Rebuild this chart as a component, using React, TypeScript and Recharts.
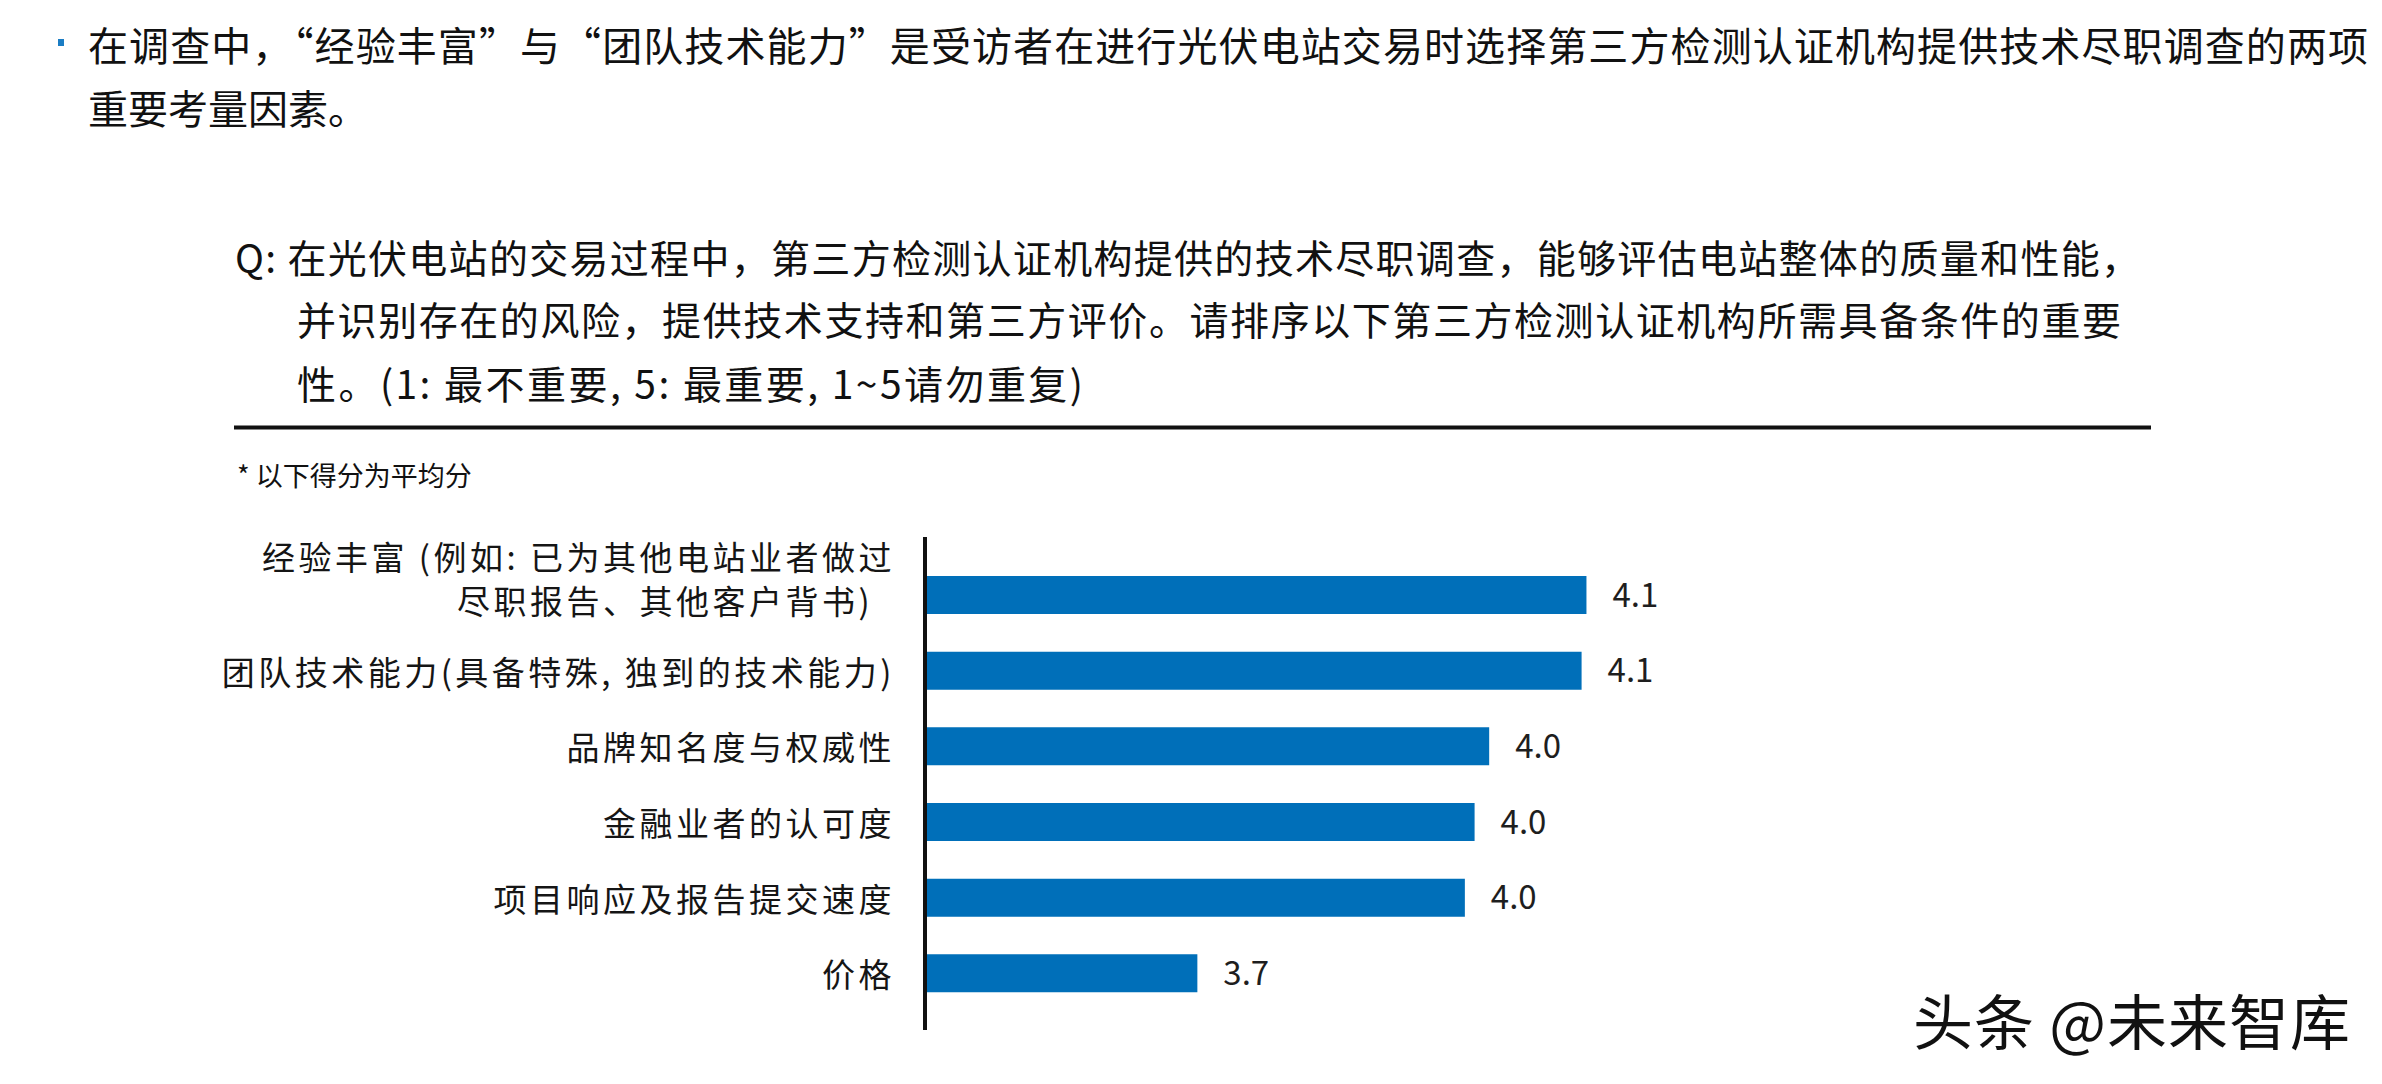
import React from 'react';
import { BarChart, Bar, XAxis, YAxis, LabelList } from 'recharts';

const FONT = "'Noto Sans CJK SC', 'Noto Sans', sans-serif";

const headline = [
  '在调查中，“经验丰富”与“团队技术能力”是受访者在进行光伏电站交易时选择第三方检测认证机构提供技术尽职调查的两项',
  '重要考量因素。',
];
const question = [
  'Q: 在光伏电站的交易过程中，第三方检测认证机构提供的技术尽职调查，能够评估电站整体的质量和性能，',
  '并识别存在的风险，提供技术支持和第三方评价。请排序以下第三方检测认证机构所需具备条件的重要',
  '性。(1: 最不重要, 5: 最重要, 1~5请勿重复)',
];
const footnote = '* 以下得分为平均分';
const watermark = '头条 @未来智库';

const categories = [
  '经验丰富 (例如: 已为其他电站业者做过\n尽职报告、其他客户背书)\u00a0\u00a0',
  '团队技术能力(具备特殊, 独到的技术能力)',
  '品牌知名度与权威性',
  '金融业者的认可度',
  '项目响应及报告提交速度',
  '价格',
];
const scores = [4.1, 4.095, 4.0, 3.985, 3.975, 3.7];
const data = categories.map((name, i) => ({ name, score: scores[i] }));

const BAR_COLOR = '#006FB9';

const CategoryTick = (props: any) => {
  const { x, y, payload } = props;
  const lines: string[] = String(payload.value).split('\n');
  const startDy = lines.length > 1 ? -39 : 0;
  return (
    <text
      x={x}
      y={y}
      textAnchor="end"
      dominantBaseline="central"
      fontFamily={FONT}
      fontSize={33}
      letterSpacing={3.5}
      fill="#151515"
      style={{ whiteSpace: 'pre' }}
    >
      {lines.map((l, i) => (
        <tspan key={i} x={x} dy={i === 0 ? startDy : 44}>
          {l}
        </tspan>
      ))}
    </text>
  );
};

export default function App() {
  return (
    <div style={{ position: 'absolute', left: 0, top: 0, width: 2382, height: 1084, background: '#fff', overflow: 'hidden' }}>
      <svg width={2382} height={1084} style={{ position: 'absolute', left: 0, top: 0 }}>
        <rect x={58} y={39} width={6} height={7} fill="#1B7DC4" />
        <text x={88} y={44} dominantBaseline="central" fontFamily={FONT} fontSize={40} fill="#111" textLength={2280} lengthAdjust="spacing">
          {headline[0]}
        </text>
        <text x={88} y={107} dominantBaseline="central" fontFamily={FONT} fontSize={40} fill="#111">
          {headline[1]}
        </text>
        <text x={235} y={256} dominantBaseline="central" fontFamily={FONT} fontSize={39} fill="#111" textLength={1905} lengthAdjust="spacing">
          {question[0]}
        </text>
        <text x={297} y={318} dominantBaseline="central" fontFamily={FONT} fontSize={39} fill="#111" textLength={1824} lengthAdjust="spacing">
          {question[1]}
        </text>
        <text x={297} y={382} dominantBaseline="central" fontFamily={FONT} fontSize={39} fill="#111" textLength={786} lengthAdjust="spacing">
          {question[2]}
        </text>
        <line x1={234} x2={2151} y1={427.5} y2={427.5} stroke="#111" strokeWidth={4} />
        <text x={237} y={474} dominantBaseline="central" fontFamily={FONT} fontSize={27} fill="#111">
          {footnote}
        </text>
        <text x={1913} y={1018} dominantBaseline="central" fontFamily={FONT} fontSize={60} fill="#111" textLength={437} lengthAdjust="spacing">
          {watermark}
        </text>
      </svg>
      <div style={{ position: 'absolute', left: 0, top: 537 }}>
        <BarChart
          width={1995}
          height={493}
          data={data}
          layout="vertical"
          margin={{ top: 0, right: 0, bottom: 0, left: 0 }}
          barCategoryGap={0}
        >
          <XAxis type="number" domain={[3.42, 4.52]} hide allowDataOverflow />
          <YAxis
            type="category"
            dataKey="name"
            width={925}
            padding={{ top: 20, bottom: 19 }}
            axisLine={{ stroke: '#111', strokeWidth: 4 }}
            tickLine={false}
            tickSize={0}
            tickMargin={30}
            tick={<CategoryTick />}
            interval={0}
          />
          <Bar dataKey="score" fill={BAR_COLOR} barSize={38} isAnimationActive={false}>
            <LabelList
              dataKey="score"
              position="right"
              offset={26}
              formatter={(v: any) => Number(v).toFixed(1)}
              fill="#1e1e1e"
              fontSize={33}
              fontFamily={FONT}
            />
          </Bar>
        </BarChart>
      </div>
    </div>
  );
}
